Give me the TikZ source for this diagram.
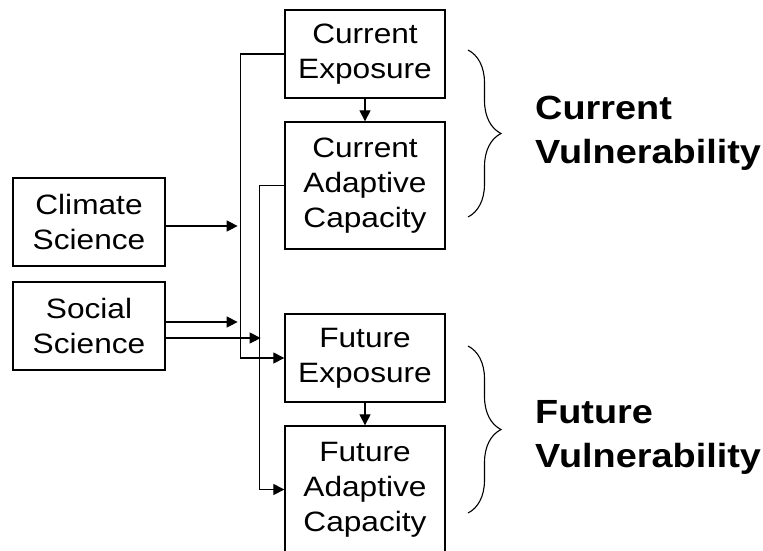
\documentclass[tikz,border=0pt]{standalone}
\usepackage{fontspec}
\setmainfont{Liberation Sans}[FakeStretch=1.13]
\usetikzlibrary{arrows.meta,decorations.pathreplacing}

\begin{document}
\begin{tikzpicture}[x=1pt,y=-1pt,
    box/.style ={rectangle, draw, line width=1.3pt, inner sep=0pt, align=center,
                 minimum width=160pt, font=\fontsize{28}{35}\selectfont},
    link/.style ={line width=1.1pt, -{Triangle[length=11pt,width=11pt]}},
    vul/.style ={inner sep=0pt, align=left, font=\fontsize{33.5}{44}\selectfont\bfseries},
    brace/.style ={line width=1.1pt, decorate, decoration={brace, amplitude=33pt}}]
   \clip (0,0) rectangle (763,550);
   \node[box, minimum width=152pt, minimum height=88pt] (clim) at (89,222) {Climate\\Science};
   \node[box, minimum width=152pt, minimum height=88pt] (soc)  at (89,326) {Social\\Science};
   \node[box, minimum height=88pt]  (cexp)  at (365,54)    {Current\\Exposure};
   \node[box, minimum height=127pt] (cadap) at (365,185.5) {Current\\Adaptive\\Capacity};
   \node[box, minimum height=88pt]  (fexp)  at (365,358)   {Future\\Exposure};
   \node[box, minimum height=127pt] (fadap) at (365,489.5) {Future\\Adaptive\\Capacity};

   \draw[link] (cexp) to (cadap);
   \draw[link] (fexp) to (fadap);
   \draw[link] (cexp.west) -- ++(-44,0) |- (fexp.west);
   \draw[link] (cadap.west) -- ++(-25,0) |- (fadap.west);
   \draw[link] ([yshift=-4pt]clim.east) -- ++(72,0);
   \draw[link] ([yshift=4pt]soc.east) -- ++(72,0);
   \draw[link] ([yshift=-12pt]soc.east) -- ++(95,0);

   \draw[brace] (468,50) -- (468,217);
   \draw[brace] (468,346) -- (468,513);
   \node[vul, anchor=base west] (cvul) at (535,163) {Current\\Vulnerability};
   \node[vul, anchor=base west] (fvul) at (535,467) {Future\\Vulnerability};
 \end{tikzpicture}
\end{document}
